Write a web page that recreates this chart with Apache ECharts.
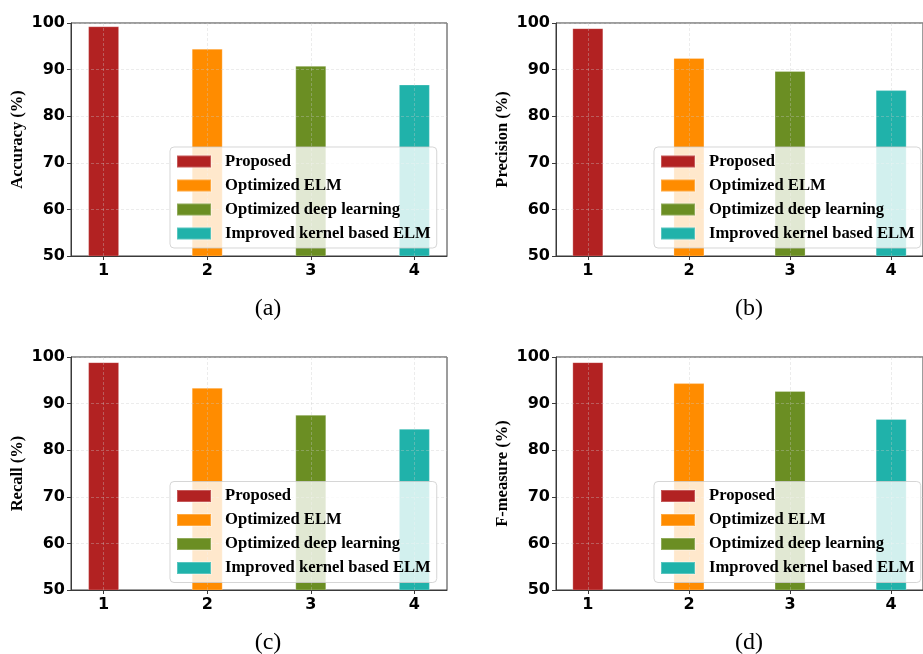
<!DOCTYPE html>
<html>
<head>
<meta charset="utf-8">
<script src="https://cdn.jsdelivr.net/npm/echarts@6/dist/echarts.min.js"></script>
<style>
  html, body { margin: 0; padding: 0; background: #fff; }
  #chart { width: 923px; height: 654px; }
</style>
</head>
<body>
<div id="chart"></div>
<script>
// Method positions on the x axis and their names
const positions = [1, 2, 3, 4];
const methods = ['Proposed', 'Optimized ELM', 'Optimized deep learning', 'Improved kernel based ELM'];
const colors = ['#B22222', '#FF8C00', '#6B8E23', '#20B2AA'];

// Metric values (%) per method
const accuracy  = [99.3, 94.5, 90.8, 86.8];
const precision = [98.9, 92.5, 89.7, 85.6];
const recall    = [98.9, 93.4, 87.6, 84.6];
const fmeasure  = [98.9, 94.4, 92.7, 86.7];

// y-axis scale
const yMin = 50, yMax = 100, yStep = 10;

const panels = [
  { name: 'Accuracy (%)',  values: accuracy,  caption: '(a)', grid: { left: 71,  top: 23,  width: 376, height: 233 }, legend: { left: 170, top: 147 },   cap: [268, 309] },
  { name: 'Precision (%)', values: precision, caption: '(b)', grid: { left: 556, top: 23,  width: 376, height: 233 }, legend: { left: 654, top: 147 },   cap: [749, 309] },
  { name: 'Recall (%)',    values: recall,    caption: '(c)', grid: { left: 71,  top: 357, width: 376, height: 233 }, legend: { left: 170, top: 481.5 }, cap: [268, 643] },
  { name: 'F-measure (%)', values: fmeasure,  caption: '(d)', grid: { left: 556, top: 357, width: 376, height: 233 }, legend: { left: 654, top: 481.5 }, cap: [749, 643] }
];

const tickFont = { fontFamily: 'DejaVu Sans', fontWeight: 'bold', fontSize: 16, color: '#000' };
const serif = 'Liberation Serif';
const frameColor = '#3a3a3a';
const gridLine = { show: true, lineStyle: { color: 'rgba(200,200,200,0.35)', type: [3, 2], width: 1 } };

const grids = [], xAxes = [], yAxes = [], series = [], legends = [], graphics = [];

panels.forEach((p, i) => {
  grids.push(Object.assign({ show: true, borderColor: frameColor, borderWidth: 1, backgroundColor: 'transparent' }, p.grid));

  xAxes.push({
    type: 'value', gridIndex: i, min: 0.685, max: 4.315, z: 3,
    axisLine: { show: true, onZero: false, lineStyle: { color: frameColor, width: 1 } },
    axisTick: { show: true, customValues: positions, length: 4, lineStyle: { color: frameColor } },
    axisLabel: Object.assign({ customValues: positions, margin: 7, formatter: v => String(v) }, tickFont),
    splitLine: gridLine
  });

  yAxes.push({
    type: 'value', gridIndex: i, min: yMin, max: yMax, interval: yStep, z: 3,
    name: p.name, nameLocation: 'middle', nameGap: 45,
    nameTextStyle: { fontFamily: serif, fontWeight: 'bold', fontSize: 16.5, color: '#000' },
    axisLine: { show: true, lineStyle: { color: frameColor, width: 1 } },
    axisTick: { show: true, length: 4, lineStyle: { color: frameColor } },
    axisLabel: Object.assign({ margin: 6 }, tickFont),
    splitLine: gridLine
  });

  methods.forEach((m, k) => {
    series.push({
      type: 'bar', name: m, xAxisIndex: i, yAxisIndex: i,
      data: [[positions[k], p.values[k]]],
      barWidth: 31, barGap: '-100%',
      itemStyle: { color: colors[k], borderColor: 'rgba(255,255,255,0.25)', borderWidth: 1 },
      silent: true
    });
  });

  legends.push({
    orient: 'vertical', left: p.legend.left, top: p.legend.top, z: 5,
    data: methods, selectedMode: false,
    itemWidth: 34, itemHeight: 12, itemGap: 7,
    icon: 'rect',
    padding: [6, 6, 6, 6],
    backgroundColor: 'rgba(255,255,255,0.8)',
    borderColor: 'rgba(204,204,204,0.8)', borderWidth: 1, borderRadius: 4,
    textStyle: { fontFamily: serif, fontWeight: 'bold', fontSize: 16.6, color: '#000', padding: [0, 0, 0, 9], lineHeight: 17 }
  });

  graphics.push({
    type: 'text', x: p.cap[0], y: p.cap[1], silent: true,
    style: { text: p.caption, font: '24px "Liberation Serif"', fill: '#000', align: 'center', verticalAlign: 'middle' }
  });
});

const chart = echarts.init(document.getElementById('chart'), null, { renderer: 'canvas' });
chart.setOption({
  animation: false,
  backgroundColor: '#fff',
  grid: grids,
  xAxis: xAxes,
  yAxis: yAxes,
  legend: legends,
  series: series,
  graphic: graphics
});
</script>
</body>
</html>
